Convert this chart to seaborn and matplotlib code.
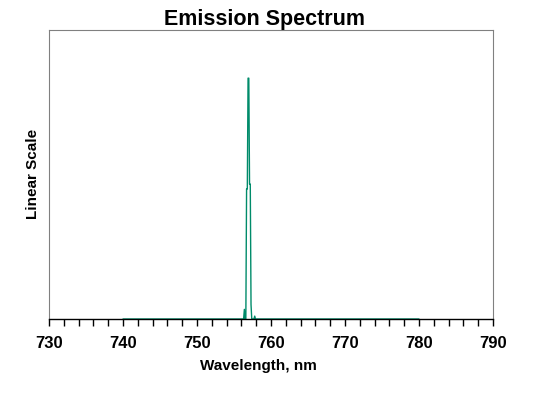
import matplotlib
matplotlib.use("Agg")
import matplotlib.pyplot as plt
import seaborn as sns
import pandas as pd
from matplotlib.ticker import MultipleLocator

# spectrum points (relative intensity)
wavelength = [740.0, 756.3, 756.4, 756.5, 756.6, 756.7, 756.8, 756.9, 757.0, 757.1,
              757.2, 757.3, 757.4, 757.7, 757.8, 757.9, 780.0]
intensity = [0.0, 0.0, 0.04, 0.0, 0.0, 0.54, 0.54, 1.0, 1.0, 0.56,
             0.56, 0.06, 0.0, 0.0, 0.012, 0.0, 0.0]
x_ticks = [730, 740, 750, 760, 770, 780, 790]

df = pd.DataFrame({"Wavelength": wavelength, "Intensity": intensity})

sns.set_style("white")
plt.rcParams['font.family'] = ['Liberation Sans', 'DejaVu Sans']
plt.rcParams['text.color'] = 'black'
plt.rcParams['xtick.color'] = 'black'

fig = plt.figure(figsize=(5.43, 3.93), dpi=100)
ax = fig.add_axes([49 / 543, 1 - 319 / 393, 444 / 543, 289 / 393])

sns.lineplot(data=df, x="Wavelength", y="Intensity", ax=ax, color="#008B6A",
             linewidth=1.0, estimator=None, sort=False)

ax.set_xlim(730, 790)
ax.set_ylim(0, 1.2)
ax.set_xticks(x_ticks)
ax.xaxis.set_minor_locator(MultipleLocator(2))
ax.set_yticks([])
ax.set_xlabel("")
ax.set_ylabel("")
ax.tick_params(axis="x", which="both", direction="out", length=5, width=1,
               color="black", bottom=True, labelsize=12, pad=7,
               labelcolor="black")
for lab in ax.get_xticklabels():
    lab.set_fontweight("bold")
for side in ["top", "left", "right"]:
    ax.spines[side].set_color("#808080")
    ax.spines[side].set_linewidth(0.8)
ax.spines["bottom"].set_color("black")
ax.spines["bottom"].set_linewidth(1)

fig.text(264 / 543, 1 - 20 / 393, "Emission Spectrum", ha="center", va="center",
         fontsize=15.5, fontweight="bold")
fig.text(258 / 543, 1 - 366 / 393, "Wavelength, nm", ha="center", va="center",
         fontsize=11, fontweight="bold")
fig.text(33 / 543, 1 - 174 / 393, "Linear Scale", ha="center", va="center",
         rotation=90, fontsize=11, fontweight="bold")

fig.savefig("out.png", dpi=100)
